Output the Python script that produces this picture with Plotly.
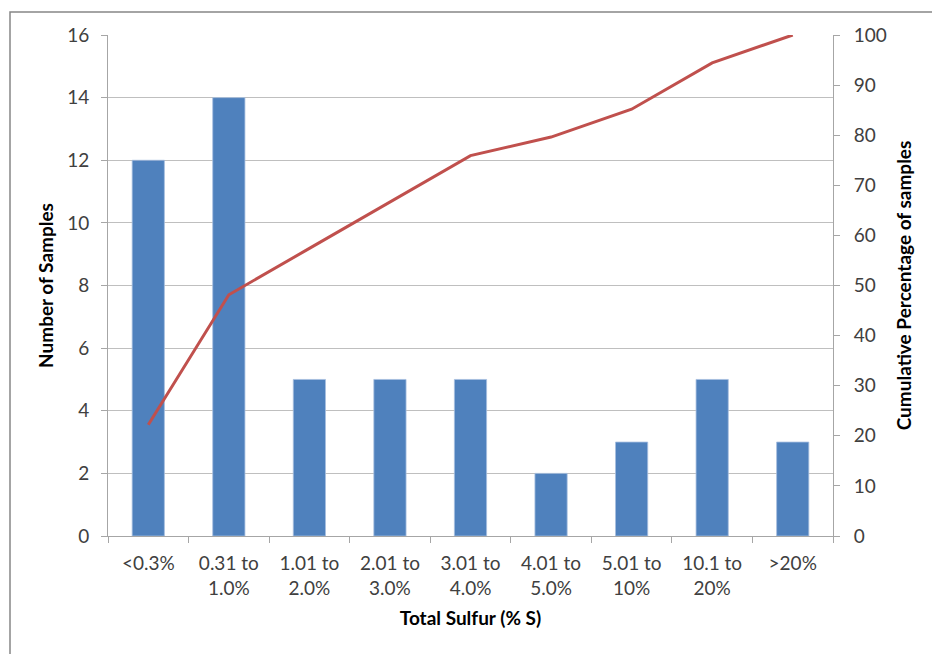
import plotly.graph_objects as go

# Sulfur content bins and sample counts
categories = ["<0.3%", "0.31 to<br>1.0%", "1.01 to<br>2.0%", "2.01 to<br>3.0%",
              "3.01 to<br>4.0%", "4.01 to<br>5.0%", "5.01 to<br>10%",
              "10.1 to<br>20%", ">20%"]
counts = [12, 14, 5, 5, 5, 2, 3, 5, 3]

# Cumulative percentage of samples per bin
total = sum(counts)
cumulative_pct = []
running = 0
for c in counts:
    running += c
    cumulative_pct.append(running / total * 100)

left_ticks = list(range(0, 17, 2))
right_ticks = list(range(0, 101, 10))

FONT = "Lato"
TICK_COLOR = "#404040"
GRID = "#BFBFBF"
AXIS = "#A6A6A6"
TICK_SIZE = 19
TITLE_SIZE = 19

fig = go.Figure()
fig.add_trace(go.Bar(
    x=categories, y=counts, name="Number of Samples",
    marker=dict(color="#4F81BD", line=dict(color="#A7BFE0", width=0.8)),
    yaxis="y",
))
fig.add_trace(go.Scatter(
    x=categories, y=cumulative_pct, name="Cumulative Percentage",
    mode="lines", line=dict(color="#C0504D", width=3),
    yaxis="y2",
))

fig.update_layout(
    width=932, height=654,
    margin=dict(l=108, r=99, t=35, b=118),
    paper_bgcolor="white", plot_bgcolor="white",
    showlegend=False,
    bargap=0.6,
    font=dict(family=FONT, size=TICK_SIZE, color=TICK_COLOR),
    xaxis=dict(
        type="category",
        showline=True, linecolor=AXIS, linewidth=1,
        ticks="outside", ticklen=6, tickcolor=AXIS, tickson="boundaries",
        ticklabelstandoff=10,
        showgrid=False,
        tickfont=dict(family=FONT, size=TICK_SIZE, color=TICK_COLOR),
        title=dict(text="<b>Total Sulfur (% S)</b>", standoff=14,
                   font=dict(family=FONT, size=TITLE_SIZE, color="black")),
    ),
    yaxis=dict(
        range=[0, 16], tickvals=left_ticks,
        showline=True, linecolor=AXIS, linewidth=1,
        ticks="outside", ticklen=6, tickcolor=AXIS,
        ticklabelstandoff=8,
        showgrid=True, gridcolor=GRID, gridwidth=1,
        zeroline=False,
        tickfont=dict(family=FONT, size=TICK_SIZE, color=TICK_COLOR),
        title=dict(text="<b>Number of Samples</b>", standoff=8,
                   font=dict(family=FONT, size=TITLE_SIZE, color="black")),
    ),
    yaxis2=dict(
        range=[0, 100], tickvals=right_ticks,
        overlaying="y", side="right",
        showline=True, linecolor=AXIS, linewidth=1,
        ticks="outside", ticklen=6, tickcolor=AXIS,
        ticklabelstandoff=10,
        showgrid=False, zeroline=False,
        tickfont=dict(family=FONT, size=TICK_SIZE, color=TICK_COLOR),
        title=dict(text="<b>Cumulative Percentage of samples</b>", standoff=11,
                   font=dict(family=FONT, size=TITLE_SIZE, color="black")),
    ),
)

# Chart frame (left and top edges fall inside the page)
fig.add_shape(type="rect", xref="paper", yref="paper",
              x0=(10 - 108) / 725, x1=(940 - 108) / 725,
              y0=(536 - 670) / 501, y1=(536 - 12) / 501,
              line=dict(color="#868686", width=1.5), layer="below")

fig.write_html("out.html")
